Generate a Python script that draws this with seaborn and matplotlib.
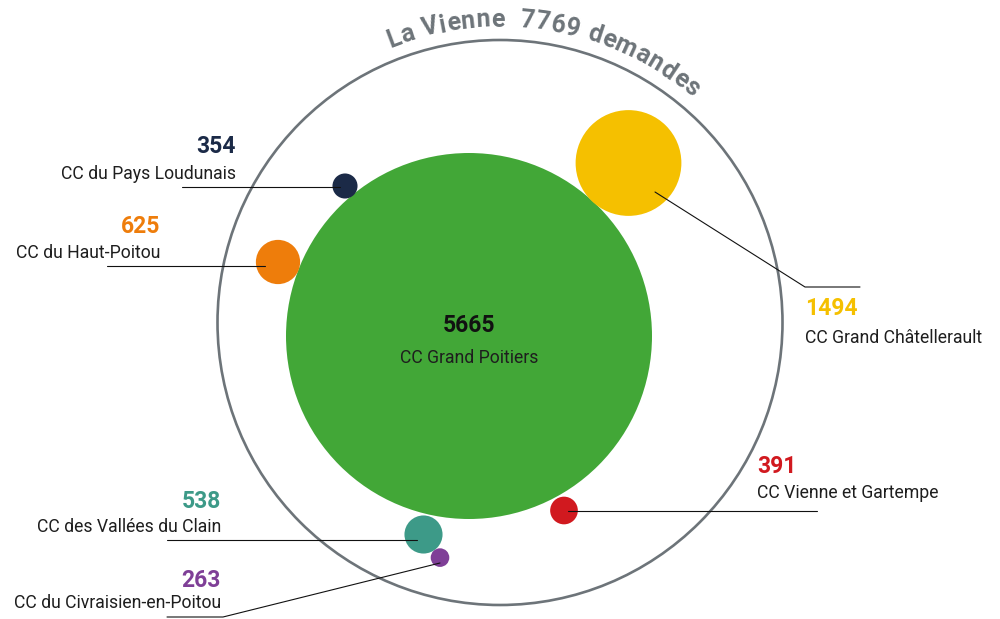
#!/usr/bin/env python3
"""Bubble chart: demandes par intercommunalité dans la Vienne."""

import matplotlib

matplotlib.use("Agg")
import matplotlib.pyplot as plt
import numpy as np
import pandas as pd
import seaborn as sns
from matplotlib.font_manager import FontProperties
from matplotlib.patches import Circle

sns.set_theme(style="white")
plt.rcParams["font.family"] = ["Roboto", "DejaVu Sans"]

# --- data -------------------------------------------------------------
names = [
    "CC Grand Poitiers",
    "CC Grand Châtellerault",
    "CC du Pays Loudunais",
    "CC du Haut-Poitou",
    "CC des Vallées du Clain",
    "CC du Civraisien-en-Poitou",
    "CC Vienne et Gartempe",
]
values = [5665, 1494, 354, 625, 538, 263, 391]
total_label = "La Vienne  7769 demandes"

# --- layout (pixels, origin top-left) --------------------------------
colors = ["#42a737", "#f5c000", "#1b2a47", "#ee7d0b", "#3d9a88", "#7f3f97", "#d1191f"]
num_colors = ["#111111", "#f5c000", "#1b2a47", "#ee7d0b", "#3d9a88", "#7f3f97", "#d1191f"]
bubble_x = [469, 628.5, 345, 278, 423.5, 440, 564]
bubble_y = [336, 163, 186, 262, 534.5, 557.6, 510.5]
label_x = [469, 805, 236, 160, 221, 221, 757]
num_base = [332, 315, 153, 233, 508, 587, 473]
name_base = [363, 343, 179, 258, 532, 608, 498]
label_ha = ["center", "left", "right", "right", "right", "right", "left"]
leaders = [
    None,
    [(655, 192), (805, 287), (860, 287)],
    [(182, 187), (340, 187)],
    [(107, 266), (265, 266)],
    [(167, 540), (417, 540)],
    [(167, 617), (223, 617), (440, 563)],
    [(568, 511), (817, 511)],
]
ring_center = (500, 322.5)
ring_radius = 282.5
grey = "#6d7479"

W, H, DPI = 1000, 619, 100
fig = plt.figure(figsize=(W / DPI, H / DPI), dpi=DPI)
ax = fig.add_axes([0, 0, 1, 1])
ax.set_xlim(0, W)
ax.set_ylim(H, 0)
ax.axis("off")

# bubble radius in px grows with the value, capped by the container
radius = np.minimum(np.array(values) * 0.0354, 183)
df = pd.DataFrame(
    {
        "name": names,
        "value": values,
        "x": bubble_x,
        "y": bubble_y,
        "s": (2 * radius * 72 / DPI) ** 2,
    }
)

ax.add_patch(
    Circle(ring_center, ring_radius, facecolor="none", edgecolor=grey, lw=1.9, zorder=1)
)
sns.scatterplot(
    data=df,
    x="x",
    y="y",
    hue="name",
    palette=dict(zip(names, colors)),
    s=df["s"].values,
    linewidth=0,
    alpha=1,
    legend=False,
    ax=ax,
    zorder=2,
)

for pts in leaders:
    if pts is None:
        continue
    xs, ys = zip(*pts)
    ax.plot(xs, ys, color="#111111", lw=0.8, zorder=3)

for i, name in enumerate(names):
    ax.text(
        label_x[i], num_base[i], f"{values[i]}", ha=label_ha[i], va="baseline",
        fontsize=16.5, fontweight="bold", color=num_colors[i], zorder=4,
    )
    ax.text(
        label_x[i], name_base[i], name, ha=label_ha[i], va="baseline",
        fontsize=12.7, color="#1e1e1e", zorder=4,
    )

# --- curved title along the ring -------------------------------------
fig.canvas.draw()
renderer = fig.canvas.get_renderer()
fp = FontProperties(family=["Roboto", "DejaVu Sans"], weight="bold", size=18)


def text_w(s):
    return renderer.get_text_width_height_descent(s, fp, ismath=False)[0]


ref = text_w("H")
adv = [text_w(total_label[:i] + "H") - ref for i in range(len(total_label) + 1)]
n = len(total_label)
R_base = 296
start, end = np.radians(-21.8), np.radians(40.5)
track = ((end - start) * R_base - adv[-1]) / (n - 1)
for i, ch in enumerate(total_label):
    if ch == " ":
        continue
    pos = (adv[i] + adv[i + 1]) / 2 + i * track
    th = start + pos / R_base
    x = ring_center[0] + R_base * np.sin(th)
    y = ring_center[1] - R_base * np.cos(th)
    ax.text(
        x, y, ch, fontproperties=fp, color=grey, rotation=-np.degrees(th),
        rotation_mode="anchor", ha="center", va="baseline", zorder=4,
    )

fig.savefig("out.png", dpi=DPI)
